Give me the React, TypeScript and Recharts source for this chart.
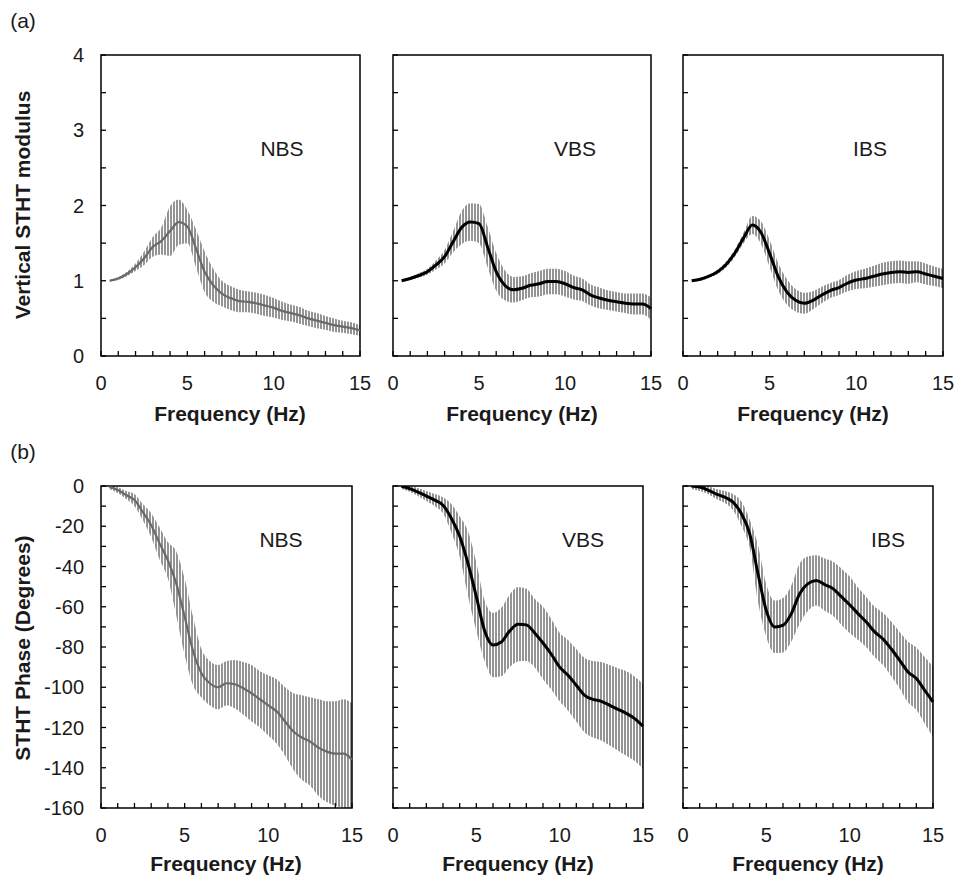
import { ComposedChart, Area, Line, XAxis, YAxis, ReferenceArea } from 'recharts';

const FONT = '"Liberation Sans", Arial, Helvetica, sans-serif';

// frequency grid (Hz)
const freq = [
  0.5, 1, 1.5, 2, 2.5, 3, 3.5, 4, 4.5, 5, 5.5, 6, 6.5, 7, 7.5, 8, 8.5, 9, 9.5, 10,
  10.5, 11, 11.5, 12, 12.5, 13, 13.5, 14, 14.5, 15,
];

// (a) vertical STHT modulus: mean and +/- spread
const modNbsMean = [
  1.0, 1.03, 1.09, 1.18, 1.3, 1.45, 1.53, 1.66, 1.78, 1.72, 1.43, 1.12, 0.94, 0.83, 0.77,
  0.73, 0.72, 0.7, 0.67, 0.64, 0.6, 0.57, 0.54, 0.5, 0.47, 0.44, 0.41, 0.39, 0.37, 0.34,
];
const modNbsErr = [
  0.01, 0.02, 0.03, 0.05, 0.09, 0.13, 0.18, 0.33, 0.3, 0.22, 0.25, 0.27, 0.22, 0.17, 0.16,
  0.15, 0.14, 0.14, 0.14, 0.13, 0.12, 0.11, 0.11, 0.1, 0.1, 0.09, 0.09, 0.08, 0.08, 0.07,
];
const modVbsMean = [
  1.0, 1.03, 1.07, 1.12, 1.21, 1.32, 1.52, 1.71, 1.78, 1.76, 1.45, 1.12, 0.94, 0.88, 0.9,
  0.94, 0.96, 0.99, 0.99, 0.96, 0.91, 0.88, 0.81, 0.77, 0.74, 0.72, 0.7, 0.69, 0.69, 0.63,
];
const modVbsErr = [
  0.01, 0.02, 0.03, 0.04, 0.06, 0.09, 0.14, 0.22, 0.25, 0.26, 0.27, 0.25, 0.2, 0.17, 0.16,
  0.16, 0.17, 0.17, 0.17, 0.17, 0.16, 0.15, 0.14, 0.14, 0.13, 0.13, 0.13, 0.14, 0.14, 0.15,
];
const modIbsMean = [
  1.0, 1.02, 1.06, 1.12, 1.22, 1.37, 1.57, 1.74, 1.64, 1.36, 1.05, 0.85, 0.74, 0.7, 0.74,
  0.81, 0.87, 0.91, 0.97, 1.01, 1.03, 1.06, 1.09, 1.11, 1.12, 1.11, 1.12, 1.09, 1.06, 1.03,
];
const modIbsErr = [
  0.01, 0.02, 0.02, 0.03, 0.04, 0.05, 0.07, 0.12, 0.15, 0.18, 0.18, 0.17, 0.15, 0.14, 0.12,
  0.11, 0.1, 0.1, 0.11, 0.12, 0.13, 0.14, 0.15, 0.15, 0.15, 0.15, 0.14, 0.14, 0.13, 0.13,
];

// (b) STHT phase in degrees
const phNbsMean = [
  -0.5, -2, -4.5, -7, -13, -19.5, -28.5, -37, -48.5, -65, -82, -93, -98, -100, -98,
  -98.5, -100.5, -103, -106, -109, -112, -117, -122, -125, -127, -130, -132, -133, -133, -136,
];
const phNbsErr = [
  1, 1.5, 2, 3, 4, 6, 8, 9, 16, 19, 17, 12, 11, 11, 11,
  12, 13, 14, 14, 15, 16, 17, 19, 21, 22, 24, 25, 26, 27, 28,
];
const phVbsMean = [
  0, -1.3, -3, -5, -7, -9.6, -16, -25, -38.5, -55, -72, -79, -77.5, -72, -68.7,
  -69, -73, -78, -83.6, -90, -94, -99, -104, -106, -107, -109, -111, -113, -115.6, -119.4,
];
const phVbsErr = [
  1.5, 1.5, 2, 2.5, 3, 4, 7, 10, 16, 17, 15, 16, 17, 18, 18.5,
  18, 17, 18, 17.5, 17, 17.5, 18, 18.5, 19, 19.5, 20, 20.5, 21, 21, 21,
];
const phIbsMean = [
  0, -0.5, -2, -4, -5.5, -8, -13.7, -23.7, -43.6, -62, -70, -69.2, -63.4, -53.5, -48.5,
  -46.9, -49, -51, -55, -59, -63.4, -67.6, -72.5, -76, -81, -86.6, -92.4, -95.7, -101.5, -107.3,
];
const phIbsErr = [
  1.5, 2, 2, 2.5, 3, 4, 6, 7, 14, 13, 13, 13.5, 14, 15, 13.5,
  12.5, 13, 13.5, 14, 14, 13, 12.5, 12.5, 13, 13.5, 14, 15, 15.5, 16.5, 17.5,
];

const xTicks = [0, 1, 2, 3, 4, 5, 6, 7, 8, 9, 10, 11, 12, 13, 14, 15];
const modTicks = [0, 0.5, 1, 1.5, 2, 2.5, 3, 3.5, 4];
const phTicks = [-160, -150, -140, -130, -120, -110, -100, -90, -80, -70, -60, -50, -40, -30, -20, -10, 0];

function buildRows(mean: number[], err: number[]) {
  return freq.map((f, i) => ({ f, m: mean[i], lo: mean[i] - err[i], hi: mean[i] + err[i] }));
}

const XTick = (props: any) => {
  const { x, y, payload } = props;
  const v = payload.value;
  return (
    <g>
      <line x1={x} x2={x} y1={y} y2={y - 5} stroke="#000" strokeWidth={1.3} />
      {v % 5 === 0 && (
        <text x={x} y={y + 27} textAnchor="middle" dominantBaseline="central" fontSize={20} fontFamily={FONT} fill="#1a1a1a">
          {v}
        </text>
      )}
    </g>
  );
};

const makeYTick = (showLabels: boolean, major: number) => (props: any) => {
  const { x, y, payload } = props;
  const v = payload.value;
  const isMajor = Math.abs(v / major - Math.round(v / major)) < 1e-6;
  return (
    <g>
      <line x1={x} x2={x + 5} y1={y} y2={y} stroke="#000" strokeWidth={1.3} />
      {showLabels && isMajor && (
        <text x={x - 17} y={y} textAnchor="end" dominantBaseline="central" fontSize={20} fontFamily={FONT} fill="#1a1a1a">
          {v}
        </text>
      )}
    </g>
  );
};

interface PanelProps {
  id: string;
  plotLeft: number;
  plotTop: number;
  plotW: number;
  plotH: number;
  mean: number[];
  err: number[];
  domain: [number, number];
  yTicks: number[];
  major: number;
  showYLabels: boolean;
  lineColor: string;
  lineWidth: number;
}

function Panel(p: PanelProps) {
  const rows = buildRows(p.mean, p.err);
  const W = p.plotW + 80;
  const H = p.plotH + 80;
  return (
    <div style={{ position: 'absolute', left: p.plotLeft - 60, top: p.plotTop - 10 }}>
      <ComposedChart width={W} height={H} data={rows} margin={{ top: 10, right: 20, bottom: 0, left: 0 }}>
        <defs>
          {/* dense vertical error bars look */}
          <pattern id={`hatch-${p.id}`} width={3} height={8} patternUnits="userSpaceOnUse">
            <rect x={0} y={0} width={2} height={8} fill="#949494" />
          </pattern>
        </defs>
        <XAxis
          dataKey="f"
          type="number"
          domain={[0, 15]}
          ticks={xTicks}
          interval={0}
          height={70}
          tickSize={0}
          tickMargin={0}
          axisLine={false}
          tickLine={false}
          tick={<XTick />}
        />
        <YAxis
          type="number"
          domain={p.domain}
          ticks={p.yTicks}
          interval={0}
          width={60}
          allowDataOverflow
          tickSize={0}
          tickMargin={0}
          axisLine={false}
          tickLine={false}
          tick={makeYTick(p.showYLabels, p.major)}
        />
        <Area
          dataKey={(d: any) => [d.lo, d.hi]}
          type="monotone"
          stroke="none"
          fill={`url(#hatch-${p.id})`}
          fillOpacity={1}
          isAnimationActive={false}
        />
        <Line
          dataKey="m"
          type="monotone"
          stroke={p.lineColor}
          strokeWidth={p.lineWidth}
          dot={false}
          isAnimationActive={false}
        />
        <ReferenceArea
          x1={0}
          x2={15}
          y1={p.domain[0]}
          y2={p.domain[1]}
          fill="none"
          stroke="#000"
          strokeWidth={1.5}
          ifOverflow="visible"
        />
      </ComposedChart>
    </div>
  );
}

const Txt = ({ x, y, children, bold, rotate }: any) => (
  <div
    style={{
      position: 'absolute',
      left: x,
      top: y,
      transform: `translate(-50%, -50%)${rotate ? ' rotate(-90deg)' : ''}`,
      whiteSpace: 'nowrap',
      fontSize: 21,
      fontWeight: bold ? 700 : 400,
      color: '#1a1a1a',
      lineHeight: 1,
    }}
  >
    {children}
  </div>
);

export default function App() {
  const top = { plotTop: 55, plotH: 301 };
  const bot = { plotTop: 486, plotH: 322 };
  return (
    <div style={{ position: 'absolute', left: 0, top: 0, width: 958, height: 878, background: '#fff', fontFamily: FONT }}>
      <Panel id="a1" {...top} plotLeft={101} plotW={259} mean={modNbsMean} err={modNbsErr} domain={[0, 4]} yTicks={modTicks} major={1} showYLabels lineColor="#6a6a6a" lineWidth={2.2} />
      <Panel id="a2" {...top} plotLeft={393} plotW={258} mean={modVbsMean} err={modVbsErr} domain={[0, 4]} yTicks={modTicks} major={1} showYLabels={false} lineColor="#000" lineWidth={3} />
      <Panel id="a3" {...top} plotLeft={683} plotW={260} mean={modIbsMean} err={modIbsErr} domain={[0, 4]} yTicks={modTicks} major={1} showYLabels={false} lineColor="#000" lineWidth={3} />
      <Panel id="b1" {...bot} plotLeft={101} plotW={251} mean={phNbsMean} err={phNbsErr} domain={[-160, 0]} yTicks={phTicks} major={20} showYLabels lineColor="#6a6a6a" lineWidth={2.2} />
      <Panel id="b2" {...bot} plotLeft={393} plotW={250} mean={phVbsMean} err={phVbsErr} domain={[-160, 0]} yTicks={phTicks} major={20} showYLabels={false} lineColor="#000" lineWidth={3} />
      <Panel id="b3" {...bot} plotLeft={683} plotW={250} mean={phIbsMean} err={phIbsErr} domain={[-160, 0]} yTicks={phTicks} major={20} showYLabels={false} lineColor="#000" lineWidth={3} />

      <Txt x={23} y={20}>(a)</Txt>
      <Txt x={23} y={451}>(b)</Txt>
      <Txt x={22} y={205} bold rotate>Vertical STHT modulus</Txt>
      <Txt x={22} y={648} bold rotate>STHT Phase (Degrees)</Txt>

      <Txt x={282} y={148}>NBS</Txt>
      <Txt x={575} y={148}>VBS</Txt>
      <Txt x={870} y={148}>IBS</Txt>
      <Txt x={281} y={539}>NBS</Txt>
      <Txt x={583} y={539}>VBS</Txt>
      <Txt x={888} y={539}>IBS</Txt>

      <Txt x={230} y={413} bold>Frequency (Hz)</Txt>
      <Txt x={522} y={413} bold>Frequency (Hz)</Txt>
      <Txt x={813} y={413} bold>Frequency (Hz)</Txt>
      <Txt x={226} y={863} bold>Frequency (Hz)</Txt>
      <Txt x={518} y={863} bold>Frequency (Hz)</Txt>
      <Txt x={808} y={863} bold>Frequency (Hz)</Txt>
    </div>
  );
}
